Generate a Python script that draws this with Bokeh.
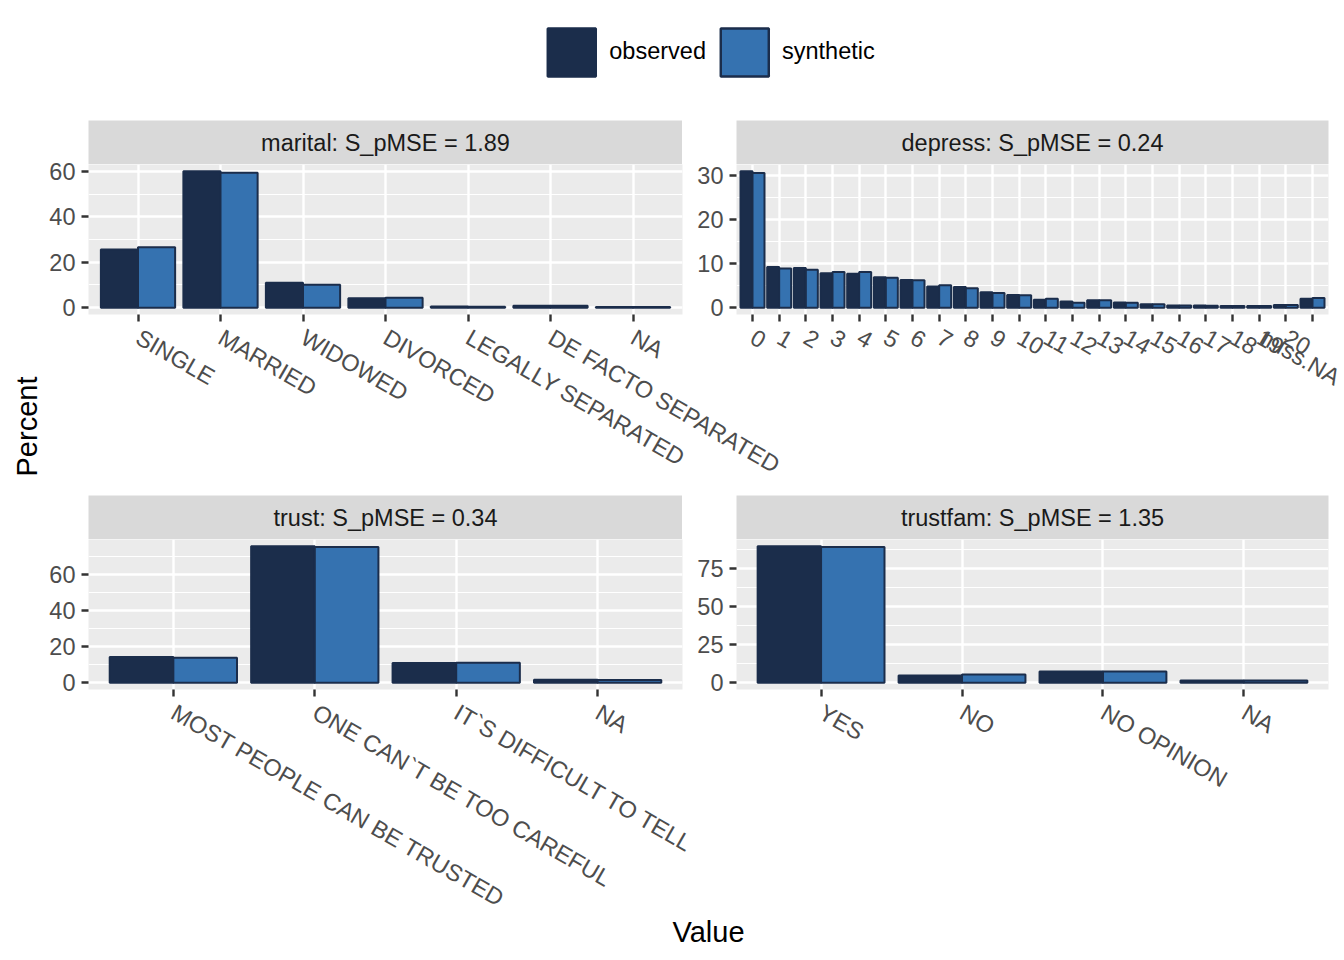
import math
from bokeh.plotting import figure
from bokeh.models import (ColumnDataSource, FactorRange, Range1d, FixedTicker,
                          Label, Legend, LegendItem)
from bokeh.layouts import column, row
from bokeh.transform import dodge
from bokeh.embed import file_html
from bokeh.resources import INLINE

# ---------------- data ----------------
series_names = ["observed", "synthetic"]

marital_title = "marital: S_pMSE = 1.89"
marital_cats = ["SINGLE", "MARRIED", "WIDOWED", "DIVORCED",
                "LEGALLY SEPARATED", "DE FACTO SEPARATED", "NA"]
marital_obs = [25.6, 60.0, 11.0, 4.1, 0.5, 0.9, 0.3]
marital_syn = [26.6, 59.4, 10.1, 4.4, 0.4, 0.9, 0.3]
marital_yticks = [0, 20, 40, 60]
marital_yminor = [10, 30, 50]

depress_title = "depress: S_pMSE = 0.24"
depress_cats = ["0", "1", "2", "3", "4", "5", "6", "7", "8", "9", "10",
                "11", "12", "13", "14", "15", "16", "17", "18", "19", "20",
                "miss.NA"]
depress_obs = [30.9, 9.2, 9.0, 7.8, 7.7, 6.9, 6.3, 4.8, 4.7, 3.5, 2.9,
               1.8, 1.4, 1.7, 1.2, 0.8, 0.5, 0.5, 0.4, 0.4, 0.6, 2.0]
depress_syn = [30.5, 8.9, 8.6, 8.1, 8.1, 6.8, 6.2, 5.1, 4.4, 3.3, 2.8,
               2.0, 1.1, 1.7, 1.1, 0.8, 0.5, 0.45, 0.4, 0.4, 0.6, 2.2]
depress_yticks = [0, 10, 20, 30]
depress_yminor = [5, 15, 25]

trust_title = "trust: S_pMSE = 0.34"
trust_cats = ["MOST PEOPLE CAN BE TRUSTED", "ONE CAN`T BE TOO CAREFUL",
              "IT`S DIFFICULT TO TELL", "NA"]
trust_obs = [14.3, 75.8, 10.9, 1.6]
trust_syn = [13.8, 75.4, 11.1, 1.5]
trust_yticks = [0, 20, 40, 60]
trust_yminor = [10, 30, 50, 70]

trustfam_title = "trustfam: S_pMSE = 1.35"
trustfam_cats = ["YES", "NO", "NO OPINION", "NA"]
trustfam_obs = [89.8, 4.8, 7.4, 1.5]
trustfam_syn = [89.3, 5.4, 7.4, 1.4]
trustfam_yticks = [0, 25, 50, 75]
trustfam_yminor = [12.5, 37.5, 62.5, 87.5]

x_title = "Value"
y_title = "Percent"

# ---------------- style ----------------
FONT = "Liberation Sans"
OBS_FILL = "#1B2D4B"
SYN_FILL = "#3572B0"
EDGE = "#1B2D4B"
PANEL_BG = "#EBEBEB"
STRIP_BG = "#D9D9D9"
SMALL = "23.5px"
LEFT = 48
STRIP_H = 44
PANEL_H = 150
TOPPAD = 14
LEFT_RIGHTPAD = 130
OVERLAP = 124
PCT_W = 60
PCT_OVERLAP = 20


def plain(p):
    p.grid.visible = False
    p.outline_line_color = None
    p.border_fill_alpha = 0
    p.background_fill_alpha = 0
    return p


def strip(text, fw, right):
    p = figure(frame_width=fw, frame_height=STRIP_H,
               min_border_left=LEFT, min_border_right=right,
               min_border_top=0, min_border_bottom=0,
               x_range=Range1d(0, 1), y_range=Range1d(0, 1),
               x_axis_location=None, y_axis_location=None,
               output_backend="svg", toolbar_location=None)
    plain(p)
    p.background_fill_alpha = 1
    p.background_fill_color = STRIP_BG
    p.add_layout(Label(x=0.5, y=0.5, text=text, text_align="center",
                       text_baseline="middle", text_font=FONT,
                       text_font_size=SMALL, text_color="#1A1A1A"))
    return p


def panel(cats, obs, syn, yticks, yminor, fw, right, bottom):
    ymax = max(obs + syn)
    p = figure(x_range=FactorRange(factors=cats, range_padding=0.1,
                                   range_padding_units="absolute"),
               y_range=Range1d(-0.05 * ymax, 1.05 * ymax),
               frame_width=fw, frame_height=PANEL_H,
               min_border_left=LEFT, min_border_right=right,
               min_border_top=TOPPAD, min_border_bottom=bottom,
               margin=(-TOPPAD, 0, 0, 0),
               output_backend="svg", toolbar_location=None)
    p.border_fill_alpha = 0
    p.outline_line_color = None
    p.background_fill_color = PANEL_BG
    src = ColumnDataSource(dict(cat=cats, obs=obs, syn=syn))
    p.vbar(x=dodge("cat", -0.225, range=p.x_range), top="obs", bottom=0,
           width=0.45, source=src, fill_color=OBS_FILL, line_color=EDGE,
           line_width=2)
    p.vbar(x=dodge("cat", 0.225, range=p.x_range), top="syn", bottom=0,
           width=0.45, source=src, fill_color=SYN_FILL, line_color=EDGE,
           line_width=2)

    p.yaxis.ticker = FixedTicker(ticks=yticks)
    p.ygrid.ticker = FixedTicker(ticks=yticks, minor_ticks=yminor)
    p.ygrid.grid_line_color = "white"
    p.ygrid.grid_line_width = 2.4
    p.ygrid.minor_grid_line_color = "white"
    p.ygrid.minor_grid_line_width = 1.2
    p.xgrid.grid_line_color = "white"
    p.xgrid.grid_line_width = 2.4

    for ax in (p.xaxis[0], p.yaxis[0]):
        ax.axis_line_color = None
        ax.major_tick_line_color = "#333333"
        ax.major_tick_line_width = 2.4
        ax.major_tick_out = 7
        ax.major_tick_in = 0
        ax.minor_tick_line_color = None
        ax.major_label_text_font = FONT
        ax.major_label_text_font_size = SMALL
        ax.major_label_text_color = "#4D4D4D"
        ax.major_label_standoff = 6
    p.xaxis[0].major_label_orientation = -math.pi / 6
    p.xaxis[0].major_label_standoff = 14
    return p


# ---------------- legend ----------------
leg = figure(width=1344, height=120, min_border_left=100, min_border_right=28,
             min_border_top=0, min_border_bottom=17,
             x_range=FactorRange(factors=marital_cats),
             y_range=Range1d(-2, -1),
             x_axis_location=None, y_axis_location=None,
             output_backend="svg", toolbar_location=None)
plain(leg)
# hidden renderers: only their legend keys are drawn
legsrc = ColumnDataSource(dict(cat=marital_cats, obs=marital_obs,
                               syn=marital_syn))
r_obs = leg.vbar(x="cat", top="obs", bottom=0, width=0.45, source=legsrc,
                 fill_color=OBS_FILL, line_color=EDGE, line_width=2.5,
                 visible=False)
r_syn = leg.vbar(x="cat", top="syn", bottom=0, width=0.45, source=legsrc,
                 fill_color=SYN_FILL, line_color=EDGE, line_width=2.5,
                 visible=False)
legend = Legend(items=[LegendItem(label=series_names[0], renderers=[r_obs]),
                       LegendItem(label=series_names[1], renderers=[r_syn])],
                orientation="horizontal", location="center",
                glyph_width=60, glyph_height=60, label_standoff=8, spacing=8,
                padding=0, margin=0, border_line_color=None,
                background_fill_alpha=0, label_text_font=FONT,
                label_text_font_size=SMALL, label_text_color="black")
leg.add_layout(legend)

# ---------------- axis titles ----------------
pct = figure(width=PCT_W, height=612, x_range=Range1d(0, PCT_W),
             y_range=Range1d(0, 612), min_border_left=0, min_border_right=0,
             min_border_top=0, min_border_bottom=0,
             x_axis_location=None, y_axis_location=None,
             output_backend="svg", toolbar_location=None)
plain(pct)
pct.add_layout(Label(x=26, y=306, text=y_title, angle=math.pi / 2,
                     text_align="center", text_baseline="middle",
                     text_font=FONT, text_font_size="29px",
                     text_color="black"))

val = figure(width=1344, height=45, x_range=Range1d(0, 1),
             y_range=Range1d(0, 45), min_border_left=72, min_border_right=0,
             min_border_top=0, min_border_bottom=0,
             margin=(-30, 0, 0, 0),
             x_axis_location=None, y_axis_location=None,
             output_backend="svg", toolbar_location=None)
plain(val)
val.add_layout(Label(x=0.5, y=19, text=x_title, text_align="center",
                     text_baseline="middle", text_font=FONT,
                     text_font_size="29px", text_color="black"))

# ---------------- panels ----------------
tl = panel(marital_cats, marital_obs, marital_syn, marital_yticks,
           marital_yminor, 594, LEFT_RIGHTPAD, 181)
tr = panel(depress_cats, depress_obs, depress_syn, depress_yticks,
           depress_yminor, 592, 16, 181)
bl = panel(trust_cats, trust_obs, trust_syn, trust_yticks,
           trust_yminor, 594, LEFT_RIGHTPAD, 246)
br = panel(trustfam_cats, trustfam_obs, trustfam_syn, trustfam_yticks,
           trustfam_yminor, 592, 16, 246)

top_row = row(column(strip(marital_title, 594, 0), tl),
              column(strip(depress_title, 592, 16), tr,
                     margin=(0, 0, 0, -OVERLAP)))
bot_row = row(column(strip(trust_title, 594, 0), bl),
              column(strip(trustfam_title, 592, 16), br,
                     margin=(0, 0, 0, -OVERLAP)))

panels = column(top_row, bot_row, margin=(0, 0, 0, -PCT_OVERLAP))
page = column(leg, row(pct, panels), val)

open("out.html", "w").write(file_html(page, INLINE))
